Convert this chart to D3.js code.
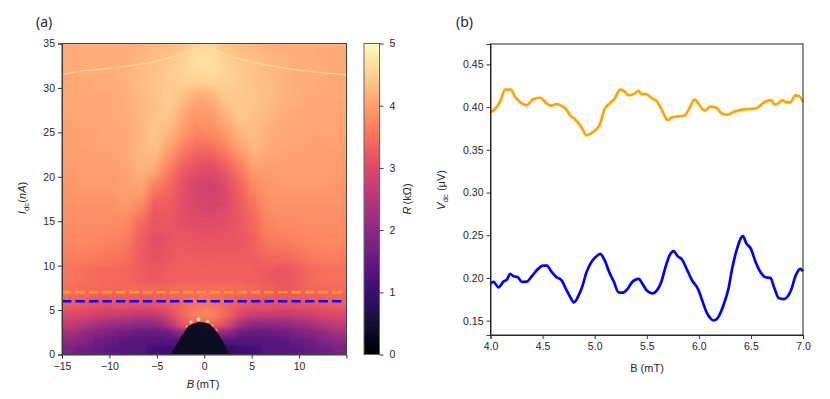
<!DOCTYPE html>
<html>
<head>
<meta charset="utf-8">
<script src="https://cdn.jsdelivr.net/npm/d3@7"></script>
<style>
  html, body { margin: 0; padding: 0; background: #fff; }
  svg { display: block; }
  text { font-family: "Liberation Sans", Arial, sans-serif; fill: #262626; }
  .tick text { font-size: 10.5px; }
  .tick line { stroke: #333; }
  .domain { stroke: #333; }
</style>
</head>
<body>
<svg id="chart" width="830" height="399"></svg>
<script>
// map: cell centres in B (mT) and row edges in I (nA)
const cellB = [-14.25, -12.75, -11.25, -9.75, -8.25, -6.75, -5.25, -3.75, -2.25, -0.75,
  0.75, 2.25, 3.75, 5.25, 6.75, 8.25, 9.75, 11.25, 12.75, 14.25];
const rowEdges = [36, 34, 32, 30, 28, 26, 24, 22, 20, 18, 16, 14, 12, 10, 8, 7, 6, 5, 4, 3, 2, 1, 0];
const firstLowRow = 13; // rows from here down get the tighter vertical blur

// resistance in kOhm, top row first
const resistance = [
  [4.1, 4.1, 4.1, 4.1, 4.1, 4.15, 4.2, 4.25, 4.35, 4.55, 4.55, 4.35, 4.25, 4.2, 4.15, 4.1, 4.1, 4.1, 4.1, 4.1],
  [4.1, 4.15, 4.15, 4.15, 4.15, 4.25, 4.35, 4.4, 4.55, 4.7, 4.7, 4.55, 4.4, 4.35, 4.25, 4.2, 4.15, 4.15, 4.1, 4.1],
  [4.1, 4.1, 4.15, 4.15, 4.2, 4.3, 4.35, 4.45, 4.55, 4.55, 4.6, 4.55, 4.45, 4.35, 4.3, 4.2, 4.15, 4.15, 4.1, 4.1],
  [4.05, 4.1, 4.1, 4.1, 4.15, 4.25, 4.35, 4.5, 4.35, 4.1, 4.15, 4.45, 4.45, 4.4, 4.3, 4.2, 4.15, 4.1, 4.1, 4.1],
  [4.05, 4.05, 4.1, 4.1, 4.15, 4.25, 4.35, 4.45, 4.1, 3.9, 3.95, 4.2, 4.45, 4.35, 4.25, 4.15, 4.1, 4.1, 4.05, 4.05],
  [4.0, 4.05, 4.05, 4.1, 4.1, 4.2, 4.4, 4.25, 3.95, 3.7, 3.75, 3.95, 4.25, 4.3, 4.15, 4.1, 4.1, 4.05, 4.05, 4.05],
  [4.0, 4.0, 4.05, 4.05, 4.1, 4.25, 4.35, 4.0, 3.6, 3.4, 3.4, 3.65, 4.0, 4.25, 4.1, 4.05, 4.05, 4.0, 4.0, 4.0],
  [3.95, 4.0, 4.0, 4.0, 4.05, 4.2, 4.15, 3.65, 3.3, 3.05, 3.0, 3.25, 3.6, 4.0, 4.0, 4.0, 4.0, 4.0, 4.0, 3.95],
  [3.9, 3.95, 3.95, 3.95, 4.0, 4.1, 3.65, 3.45, 3.1, 2.85, 2.8, 3.0, 3.35, 3.75, 3.9, 3.95, 3.95, 3.95, 3.95, 3.9],
  [3.85, 3.85, 3.85, 3.85, 3.95, 3.8, 3.3, 3.3, 3.05, 2.9, 2.85, 2.95, 3.25, 3.55, 3.85, 3.85, 3.85, 3.85, 3.85, 3.85],
  [3.8, 3.8, 3.8, 3.8, 3.75, 3.45, 3.15, 3.2, 3.05, 3.0, 3.0, 3.05, 3.2, 3.4, 3.7, 3.8, 3.8, 3.8, 3.8, 3.8],
  [3.75, 3.75, 3.75, 3.7, 3.65, 3.3, 3.05, 3.15, 3.2, 3.15, 3.15, 3.15, 3.2, 3.35, 3.6, 3.65, 3.7, 3.75, 3.75, 3.75],
  [3.65, 3.65, 3.6, 3.55, 3.5, 3.25, 3.1, 3.2, 3.3, 3.25, 3.25, 3.25, 3.25, 3.3, 3.4, 3.4, 3.5, 3.6, 3.65, 3.65],
  [3.55, 3.5, 3.45, 3.45, 3.4, 3.3, 3.2, 3.3, 3.35, 3.35, 3.35, 3.35, 3.35, 3.3, 3.25, 3.15, 3.3, 3.45, 3.5, 3.5],
  [3.5, 3.45, 3.45, 3.4, 3.4, 3.4, 3.4, 3.4, 3.45, 3.45, 3.45, 3.45, 3.45, 3.4, 3.3, 3.2, 3.3, 3.4, 3.45, 3.45],
  [3.4, 3.35, 3.3, 3.3, 3.3, 3.3, 3.3, 3.35, 3.4, 3.5, 3.5, 3.4, 3.35, 3.3, 3.25, 3.2, 3.25, 3.3, 3.35, 3.35],
  [3.25, 3.2, 3.1, 3.1, 3.1, 3.05, 3.1, 3.2, 3.4, 3.6, 3.55, 3.4, 3.2, 3.1, 3.1, 3.05, 3.1, 3.15, 3.2, 3.25],
  [3.0, 2.9, 2.8, 2.7, 2.7, 2.6, 2.65, 2.9, 3.4, 3.7, 3.7, 3.4, 2.9, 2.7, 2.7, 2.65, 2.7, 2.8, 2.9, 3.0],
  [2.7, 2.55, 2.35, 2.2, 2.15, 2.05, 2.05, 2.4, 3.2, 3.4, 3.4, 3.1, 2.3, 2.0, 2.05, 2.1, 2.2, 2.35, 2.55, 2.7],
  [2.3, 2.1, 1.9, 1.75, 1.65, 1.55, 1.5, 1.6, 2.1, 2.2, 2.2, 2.1, 1.55, 1.5, 1.55, 1.65, 1.8, 1.95, 2.1, 2.3],
  [2.0, 1.85, 1.65, 1.5, 1.4, 1.35, 1.3, 1.3, 1.3, 1.0, 1.0, 1.3, 1.25, 1.3, 1.35, 1.4, 1.5, 1.65, 1.85, 2.0],
  [1.8, 1.65, 1.5, 1.4, 1.3, 1.25, 1.15, 1.05, 0.8, 0.4, 0.4, 0.8, 1.05, 1.15, 1.25, 1.3, 1.4, 1.5, 1.65, 1.8]
];

// dark dome near zero field
const domeB = [-3.45, -3.3, -2.95, -2.7, -2.5, -2.15, -1.95, -1.65, -1.2, -0.65, 0, 0.6, 1.0, 1.5, 1.9, 2.2, 2.45, 2.55];
const domeI = [0, 0.5, 1.0, 1.5, 1.9, 2.4, 2.8, 3.2, 3.45, 3.65, 3.6, 3.4, 2.95, 2.3, 1.6, 0.95, 0.4, 0];
const domeR = 0.33;

// bright spots on the dome edge
const capB = [-1.85, -1.4, -0.6, 0.35, 0.85, 1.3];
const capI = [3.15, 3.65, 3.95, 3.75, 3.3, 2.75];
const capR = [3.8, 4.8, 5, 4.8, 4.0, 3.8];
const capSize = [1.2, 1.5, 1.8, 1.5, 1.2, 1.2];

// thin switching line near the top
const arcB = [-15, -14.84, -13.08, -10.98, -8.56, -5.71, -3.29, -1.5, -0.66, 0.6, 1.65, 3.41, 6.18, 9.02, 11.83, 15];
const arcI = [31.5, 31.56, 31.9, 32.1, 32.39, 32.84, 33.45, 34.19, 34.46, 34.46, 34.0, 33.33, 32.66, 32.13, 31.76, 31.47];

const cutB = [-15, 14.55];
const orangeCutI = 7;
const blueCutI = 6;
const mapTicksX = [-15, -10, -5, 0, 5, 10];
const mapTicksY = [0, 5, 10, 15, 20, 25, 30, 35];
const barTicks = [0, 1, 2, 3, 4, 5];

// panel b traces
const orangeB = [4, 4.045, 4.093, 4.141, 4.195, 4.237, 4.279, 4.349, 4.413, 4.477, 4.535, 4.58, 4.631, 4.676, 4.724, 4.765, 4.804, 4.852, 4.887, 4.919, 4.957, 5.012, 5.053, 5.092, 5.15, 5.188, 5.246, 5.278, 5.329, 5.374, 5.422, 5.447, 5.495, 5.55, 5.598, 5.652, 5.7, 5.742, 5.806, 5.86, 5.902, 5.96, 6.008, 6.056, 6.11, 6.165, 6.213, 6.27, 6.334, 6.414, 6.478, 6.542, 6.59, 6.638, 6.693, 6.725, 6.757, 6.802, 6.834, 6.879, 6.927, 6.968, 7];
const orangeV = [0.3938, 0.3977, 0.4066, 0.4203, 0.4203, 0.4117, 0.4062, 0.4023, 0.4094, 0.4109, 0.4047, 0.4016, 0.4035, 0.4016, 0.398, 0.39, 0.3867, 0.38, 0.3735, 0.3669, 0.3688, 0.3735, 0.3805, 0.3969, 0.4047, 0.4094, 0.4203, 0.4191, 0.4136, 0.4152, 0.4191, 0.4152, 0.4152, 0.4101, 0.4066, 0.3949, 0.3848, 0.3879, 0.3891, 0.3899, 0.3969, 0.4086, 0.4019, 0.3957, 0.4004, 0.3996, 0.393, 0.391, 0.3942, 0.3969, 0.3977, 0.3981, 0.4016, 0.4066, 0.4082, 0.4031, 0.4039, 0.4082, 0.4058, 0.4055, 0.4136, 0.4125, 0.4058];
const blueB = [4, 4.029, 4.077, 4.125, 4.157, 4.189, 4.221, 4.259, 4.301, 4.349, 4.397, 4.451, 4.503, 4.541, 4.589, 4.631, 4.685, 4.724, 4.765, 4.801, 4.845, 4.887, 4.919, 4.964, 5.012, 5.053, 5.092, 5.143, 5.182, 5.23, 5.271, 5.316, 5.358, 5.422, 5.463, 5.502, 5.559, 5.598, 5.636, 5.678, 5.716, 5.758, 5.796, 5.838, 5.886, 5.934, 5.992, 6.03, 6.078, 6.11, 6.142, 6.18, 6.238, 6.286, 6.318, 6.36, 6.424, 6.456, 6.5, 6.542, 6.597, 6.638, 6.687, 6.725, 6.767, 6.815, 6.885, 6.927, 6.975, 7];
const blueV = [0.1933, 0.1953, 0.189, 0.1957, 0.198, 0.2047, 0.202, 0.2012, 0.1953, 0.1957, 0.202, 0.2098, 0.2145, 0.2145, 0.2067, 0.2012, 0.1969, 0.1871, 0.1776, 0.1714, 0.1792, 0.1922, 0.2059, 0.2176, 0.2247, 0.2282, 0.2216, 0.2059, 0.1961, 0.1831, 0.1827, 0.1871, 0.1949, 0.1988, 0.1922, 0.1851, 0.182, 0.1855, 0.1941, 0.2118, 0.2255, 0.2314, 0.2255, 0.2216, 0.2098, 0.1973, 0.1871, 0.1745, 0.1588, 0.1529, 0.1502, 0.1529, 0.1686, 0.1882, 0.2098, 0.2314, 0.249, 0.2404, 0.2341, 0.2196, 0.2059, 0.2008, 0.2, 0.1882, 0.1765, 0.1753, 0.1855, 0.202, 0.2106, 0.2078];
const traceTicksX = [4, 4.5, 5, 5.5, 6, 6.5, 7];
const traceTicksY = [0.15, 0.2, 0.25, 0.3, 0.35, 0.4, 0.45];

const svg = d3.select("#chart");
const defs = svg.append("defs");

const mapL = 62, mapR = 346.5, mapT = 43.5, mapB = 354.5;
const barL = 364, barR = 379.5;
const lineL = 490.5, lineR = 803, lineT = 44, lineB = 335;

const xMap = d3.scaleLinear().domain([-15, 15]).range([mapL, mapR]);
const yMap = d3.scaleLinear().domain([0, 35]).range([mapB, mapT]);
const color = d3.scaleSequential(d3.interpolateMagma).domain([0, 5]);
const yBar = d3.scaleLinear().domain([0, 5]).range([mapB, mapT]);
const xLine = d3.scaleLinear().domain([4, 7]).range([lineL, lineR]);
const yLine = d3.scaleLinear().domain([0.1332, 0.4738]).range([lineB, lineT]);

defs.append("clipPath").attr("id", "mapClip").append("rect")
  .attr("x", mapL).attr("y", mapT).attr("width", mapR - mapL).attr("height", mapB - mapT);
function addBlur(id, dev) {
  defs.append("filter").attr("id", id)
    .attr("x", "-15%").attr("y", "-15%").attr("width", "130%").attr("height", "130%")
    .append("feGaussianBlur").attr("stdDeviation", dev);
}
addBlur("softHigh", "5 6.5");
addBlur("softLow", "6 2.6");
addBlur("softEdge", "0.7");

const map = svg.append("g").attr("clip-path", "url(#mapClip)");

// heat map cells, edge cells run past the frame so the blur doesn't fade out there
const bleed = 24;
function drawCells(group, rowFrom) {
  resistance.forEach((row, r) => {
    if (r < rowFrom) return;
    row.forEach((val, c) => {
      const x0 = xMap(cellB[c] - 0.75) - (c === 0 ? bleed : 0);
      const x1 = xMap(cellB[c] + 0.75) + (c === cellB.length - 1 ? bleed : 0);
      const y0 = yMap(rowEdges[r]);
      const y1 = yMap(rowEdges[r + 1]) + (r === resistance.length - 1 ? bleed : 0);
      group.append("rect")
        .attr("x", x0).attr("y", y0)
        .attr("width", x1 - x0 + 0.5).attr("height", y1 - y0 + 0.5)
        .attr("fill", color(val));
    });
  });
}
drawCells(map.append("g").attr("filter", "url(#softHigh)"), 0);
drawCells(map.append("g").attr("filter", "url(#softLow)"), firstLowRow);

// dome and the bright spots on it
const dome = d3.line().x(i => xMap(domeB[i])).y(i => yMap(domeI[i]));
map.append("g").attr("filter", "url(#softEdge)").selectAll("circle")
  .data(capB)
  .enter()
  .append("circle")
  .attr("cx", d => xMap(d))
  .attr("cy", (d, i) => yMap(capI[i]))
  .attr("r", (d, i) => capSize[i])
  .attr("fill", (d, i) => color(capR[i]));
map.append("path")
  .attr("d", dome(d3.range(domeB.length)) + "Z")
  .attr("fill", color(domeR))
  .attr("filter", "url(#softEdge)");

// switching line
const arcLine = d3.line().x(i => xMap(arcB[i])).y(i => yMap(arcI[i]));
map.append("path")
  .attr("d", arcLine(d3.range(arcB.length)))
  .attr("fill", "none")
  .attr("stroke", color(4.75))
  .attr("stroke-opacity", 0.85)
  .attr("stroke-width", 0.9);

// dashed cuts
[[orangeCutI, "orange"], [blueCutI, "blue"]].forEach(([cut, col]) => {
  svg.append("line")
    .attr("x1", xMap(cutB[0])).attr("x2", xMap(cutB[1]))
    .attr("y1", yMap(cut)).attr("y2", yMap(cut))
    .attr("stroke", col)
    .attr("stroke-width", 2.5)
    .attr("stroke-dasharray", "9.3,4.2");
});

function drawAxis(axis, x, y) {
  const g = svg.append("g").attr("transform", `translate(${x},${y})`).call(axis);
  return g;
}
const minus = d => String(d).replace("-", "\u2212");

const mapAxisX = d3.axisBottom(xMap).tickValues(mapTicksX).tickFormat(minus).tickSizeOuter(0).tickSize(4).tickPadding(4);
const mapAxisY = d3.axisLeft(yMap).tickValues(mapTicksY).tickSizeOuter(0).tickSize(4).tickPadding(3);
drawAxis(mapAxisX, 0, mapB);
drawAxis(mapAxisY, mapL, 0);
svg.append("rect")
  .attr("x", mapL).attr("y", mapT).attr("width", mapR - mapL).attr("height", mapB - mapT)
  .attr("fill", "none").attr("stroke", "#444").attr("stroke-width", 1);

// colour bar
const barStops = d3.range(0, 1.001, 0.02);
const grad = defs.append("linearGradient").attr("id", "barGrad")
  .attr("x1", 0).attr("x2", 0).attr("y1", 1).attr("y2", 0);
grad.selectAll("stop")
  .data(barStops)
  .enter()
  .append("stop")
  .attr("offset", d => d)
  .attr("stop-color", d => color(d * 5));
svg.append("rect")
  .attr("x", barL).attr("y", mapT).attr("width", barR - barL).attr("height", mapB - mapT)
  .attr("fill", "url(#barGrad)")
  .attr("stroke", "#666").attr("stroke-width", 1);
drawAxis(d3.axisRight(yBar).tickValues(barTicks).tickFormat(d3.format("d")).tickSizeOuter(0).tickSize(4).tickPadding(6), barR, 0)
  .select(".domain").remove();

// panel b
const trace = d3.line().curve(d3.curveMonotoneX).x(d => xLine(d[0])).y(d => yLine(d[1]));
[[orangeB, orangeV, "orange"], [blueB, blueV, "blue"]].forEach(([bs, vs, col]) => {
  svg.append("path")
    .attr("d", trace(bs.map((b, i) => [b, vs[i]])))
    .attr("fill", "none")
    .attr("stroke", col)
    .attr("stroke-width", 2.7)
    .attr("stroke-linejoin", "round");
});
drawAxis(d3.axisBottom(xLine).tickValues(traceTicksX).tickFormat(d3.format(".1f")).tickSizeOuter(0).tickSize(4).tickPadding(4), 0, lineB);
drawAxis(d3.axisLeft(yLine).tickValues(traceTicksY).tickFormat(d3.format(".2f")).tickSizeOuter(0).tickSize(4).tickPadding(3), lineL, 0);
svg.append("rect")
  .attr("x", lineL).attr("y", lineT).attr("width", lineR - lineL).attr("height", lineB - lineT)
  .attr("fill", "none").attr("stroke", "#222").attr("stroke-width", 1);

// labels
function panelLabel(x, s) {
  svg.append("text").attr("x", x).attr("y", 27)
    .attr("font-size", 14).style("font-family", '"Noto Sans", sans-serif').text(s);
}
panelLabel(36, "(a)");
panelLabel(456, "(b)");

function axisLabel(x, y, rotate, parts) {
  const t = svg.append("text")
    .attr("transform", `translate(${x},${y})` + (rotate ? " rotate(-90)" : ""))
    .attr("text-anchor", "middle")
    .attr("font-size", 11);
  parts.forEach(p => {
    const span = t.append("tspan").text(p.s);
    if (p.i) span.attr("font-style", "italic");
    if (p.sub) span.attr("font-size", 8).attr("dy", 2.5);
    if (p.back) span.attr("dy", -2.5);
  });
}
axisLabel(203, 388, false, [{ s: "B", i: true }, { s: "\u2009(mT)" }]);
axisLabel(26, 198, true, [{ s: "I", i: true }, { s: "dc", sub: true }, { s: "(", back: true }, { s: "nA", i: true }, { s: ")" }]);
axisLabel(411, 199, true, [{ s: "R", i: true }, { s: "\u2009(k\u03a9)" }]);
axisLabel(647, 372, false, [{ s: "B (mT)" }]);
axisLabel(445, 190, true, [{ s: "V", i: true }, { s: "dc", sub: true }, { s: " (\u03bcV)", back: true }]);
</script>
</body>
</html>
